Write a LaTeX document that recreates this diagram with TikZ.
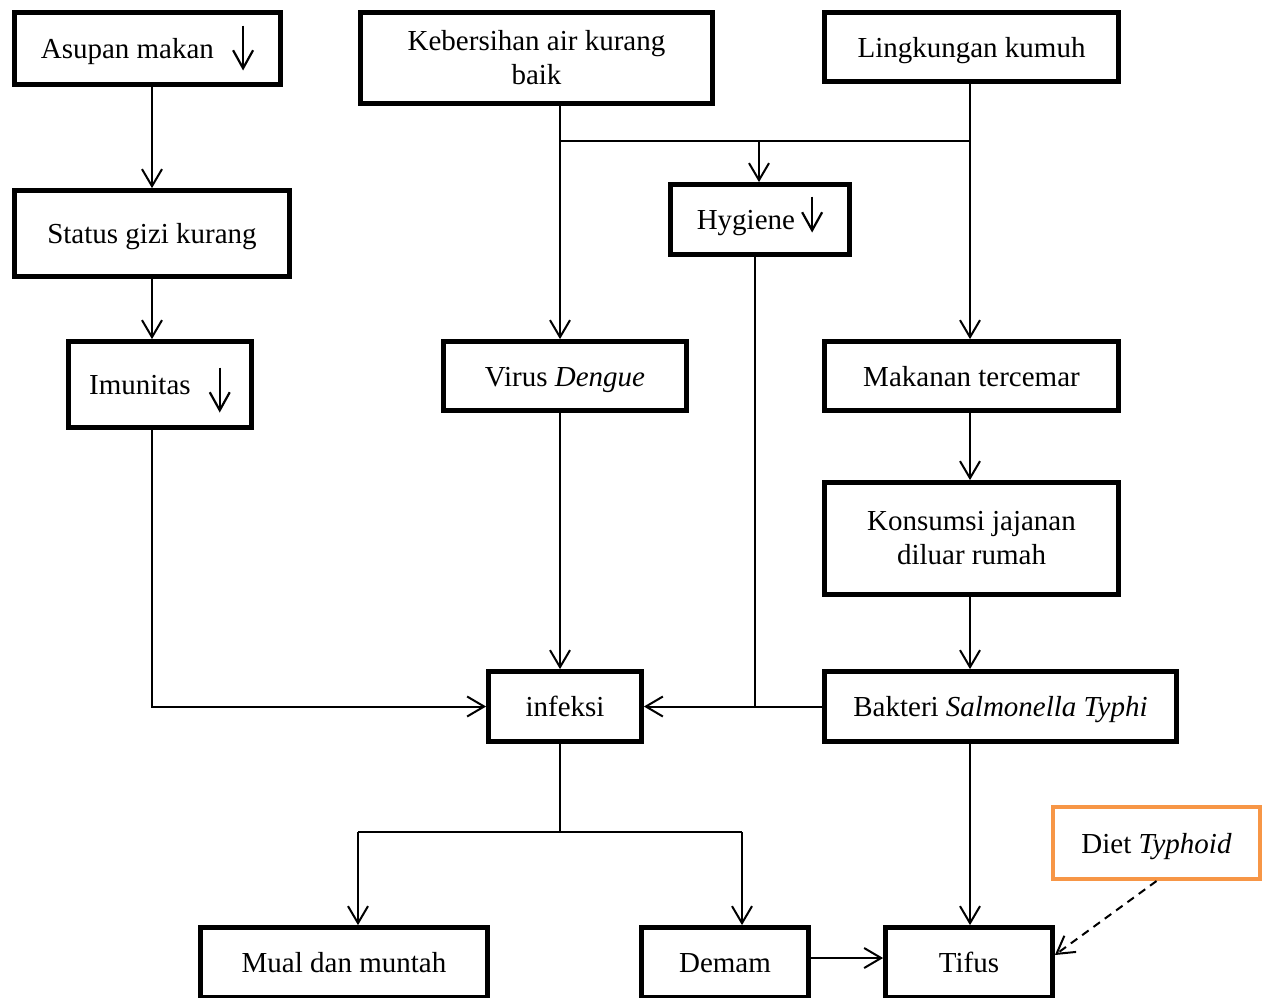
\documentclass[tikz,border=0pt]{standalone}
\usepackage{fontspec}
\setmainfont{Liberation Serif}
\usepackage{xcolor}
\usetikzlibrary{positioning,arrows.meta}
\definecolor{dietorange}{RGB}{247,150,70}
% down arrow inside a box: #1 top, #2 bottom (from the baseline)
\newcommand{\turun}[2]{\tikz[baseline=0pt]\draw[line width=1.1pt, -{Straight Barb[length=9pt,width=10pt]}] (0pt,#1) -- (0pt,#2);}

\begin{document}
\begin{tikzpicture}[x=0.5pt, y=-0.5pt,
  box/.style={draw, line width=2.4pt, align=center, inner sep=2pt,
    font=\fontsize{14.5}{17}\selectfont},
  onebox/.style={box, text height=10pt, text depth=0pt},
  arr/.style={line width=1pt, -{Straight Barb[length=8.5pt,width=10pt]}},
  link/.style={line width=1pt}]
\useasboundingbox (0,0) rectangle (1267,997);
\clip (0,0) rectangle (1267,997);

% Top row
\node[onebox, minimum width=133pt, minimum height=36pt] (asupan) at (147.5,48.5) {Asupan makan\hspace{9pt}\turun{16.5pt}{-6pt}};
\node[box, minimum width=176pt, minimum height=45.5pt] (keb) at (536.5,58) {Kebersihan air kurang\\baik};
\node[onebox, minimum width=147pt, minimum height=34.5pt] (ling) at (971.5,47) {Lingkungan kumuh};

% Second row
\node[onebox, minimum width=137.5pt, minimum height=43pt] (status) at (152,233.5) {Status gizi kurang};
\node[onebox, minimum width=89.5pt, minimum height=35pt] (hyg) at (760,219.5) {Hygiene\hspace{3pt}\turun{16.5pt}{-1.5pt}};

% Third row
\node[onebox, minimum width=91.5pt, minimum height=43pt] (imun) at (160,384.5) {Imunitas\hspace{9pt}\turun{13.5pt}{-9pt}};
\node[onebox, minimum width=121.5pt, minimum height=34.5pt] (virus) at (565,376) {Virus \textit{Dengue}};
\node[onebox, minimum width=147pt, minimum height=34.5pt] (mak) at (971.5,376) {Makanan tercemar};
\node[box, minimum width=147pt, minimum height=56pt] (kons) at (971.5,538.5) {Konsumsi jajanan\\diluar rumah};

% Infection row
\node[onebox, minimum width=76.5pt, minimum height=35pt] (inf) at (565,706.5) {infeksi};
\node[onebox, minimum width=176pt, minimum height=35pt] (bak) at (1000.5,706.5) {Bakteri \textit{Salmonella Typhi}};

% Outcomes
\node[onebox, draw=dietorange, line width=2pt, minimum width=103.5pt, minimum height=36pt] (diet) at (1156.5,843) {Diet \textit{Typhoid}};
\node[onebox, minimum width=143.5pt, minimum height=35pt] (mual) at (344,962.5) {Mual dan muntah};
\node[onebox, minimum width=83.5pt, minimum height=35pt] (demam) at (725,962.5) {Demam};
\node[onebox, minimum width=83.5pt, minimum height=35pt] (tifus) at (969,962.5) {Tifus};

% Junctions
\coordinate (jk) at (560,141);
\coordinate (jh) at (759,141);
\coordinate (jl) at (970,141);
\coordinate (jb) at (755,706.5);
\coordinate (ji) at (560,832);
\coordinate (jm) at (358,832);
\coordinate (jd) at (742,832);

% Left chain
\draw[arr] (asupan.south -| status.north) -- (status.north);
\draw[arr] (status.south) -- (status.south |- imun.north);
\draw[arr] (imun.south -| status.south) |- (inf.west);

% Water and environment
\draw[link] (keb.south -| jk) -- (jk) -- (jl);
\draw[arr] (jk) -- (virus.north -| jk);
\draw[arr] (jh) -- (hyg.north -| jh);
\draw[link] (ling.south -| jl) -- (jl);
\draw[arr] (jl) -- (mak.north -| jl);
\draw[arr] (mak.south -| jl) -- (kons.north -| jl);
\draw[arr] (kons.south -| jl) -- (bak.north -| jl);

% Into infection
\draw[arr] (virus.south -| jk) -- (inf.north -| jk);
\draw[link] (hyg.south -| jb) -- (jb);
\draw[arr] (bak.west) -- (inf.east);

% Out of infection
\draw[link] (inf.south -| ji) -- (ji);
\draw[link] (jm) -- (jd);
\draw[arr] (jm) -- (mual.north -| jm);
\draw[arr] (jd) -- (demam.north -| jd);
\draw[arr] (bak.south -| jl) -- (tifus.north -| jl);
\draw[arr] ([yshift=2.25pt]demam.east) -- ([yshift=2.25pt]tifus.west);
\draw[arr, dash pattern=on 4pt off 3pt] (diet.south) -- ([yshift=3.75pt]tifus.east);
\end{tikzpicture}
\end{document}
